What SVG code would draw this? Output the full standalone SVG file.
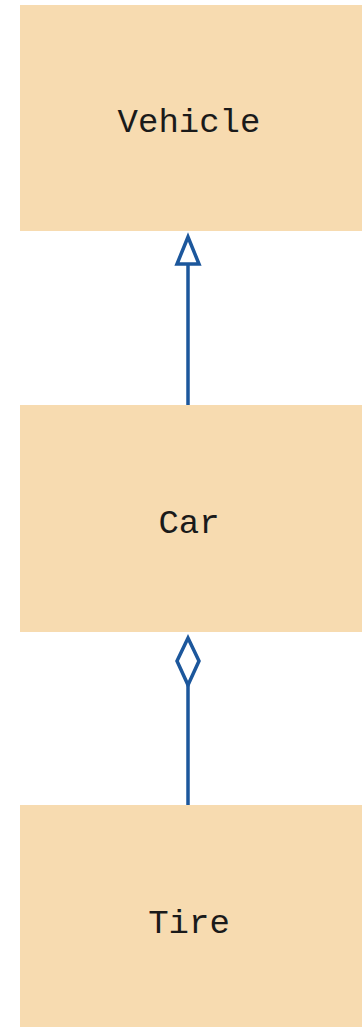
<svg xmlns="http://www.w3.org/2000/svg" width="362" height="1027" viewBox="0 0 362 1027">
<style>
.box{fill:#F7DBB0}
.lbl{font-family:"Liberation Mono","Courier New",monospace;font-size:34px;fill:#1a1a1a;text-anchor:middle}
.conn{stroke:#1C579C;stroke-width:3.5;fill:none}
.head{stroke:#1C579C;stroke-width:3.5;fill:#fff;stroke-linejoin:miter}
</style>
<rect width="362" height="1027" fill="#fff"/>
<g id="vehicle"><rect class="box" x="20" y="5" width="342" height="226"/><text class="lbl" x="189" y="132">Vehicle</text></g>
<g id="car"><rect class="box" x="20" y="405" width="342" height="227"/><text class="lbl" x="189" y="533">Car</text></g>
<g id="tire"><rect class="box" x="20" y="805" width="342" height="222"/><text class="lbl" x="189" y="933">Tire</text></g>
<g id="connectors">
<line class="conn" x1="188" y1="405" x2="188" y2="264"/>
<polygon class="head" points="188,237 199,264 177,264"/>
<line class="conn" x1="188" y1="805" x2="188" y2="685"/>
<polygon class="head" points="188,638 199,661 188,685 177,661"/>
</g>
</svg>
